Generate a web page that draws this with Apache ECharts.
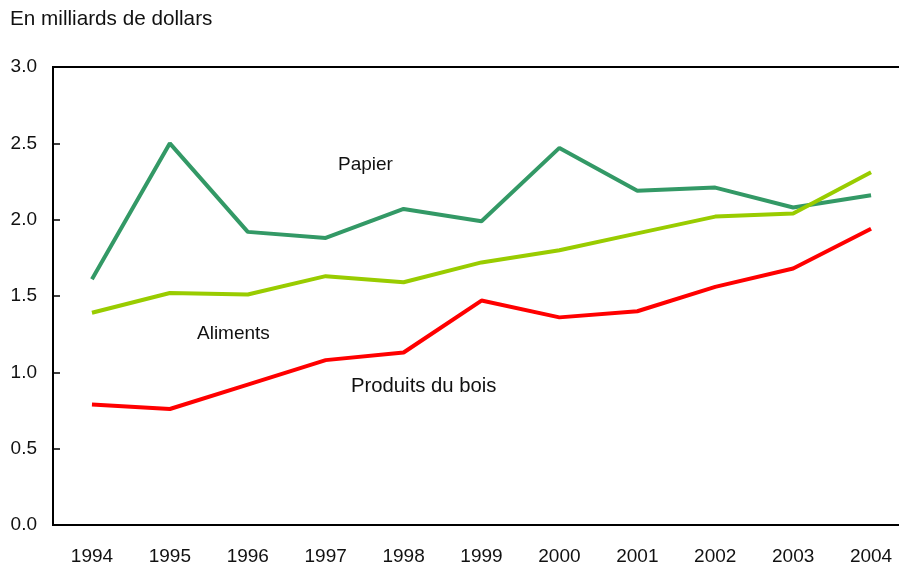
<!DOCTYPE html>
<html>
<head>
<meta charset="utf-8">
<script src="https://cdn.jsdelivr.net/npm/echarts@6/dist/echarts.min.js"></script>
<style>
  html, body { margin: 0; padding: 0; background: #fff; }
  #chart-container { width: 899px; height: 564px; }
</style>
</head>
<body>
<div id="chart-container"></div>
<script>
var years = ['1994', '1995', '1996', '1997', '1998', '1999', '2000', '2001', '2002', '2003', '2004'];
var papier = [1.61, 2.50, 1.92, 1.88, 2.07, 1.99, 2.47, 2.19, 2.21, 2.08, 2.16];
var aliments = [1.39, 1.52, 1.51, 1.63, 1.59, 1.72, 1.80, 1.91, 2.02, 2.04, 2.31];
var bois = [0.79, 0.76, 0.92, 1.08, 1.13, 1.47, 1.36, 1.40, 1.56, 1.68, 1.94];

var dom = document.getElementById('chart-container');
var myChart = echarts.init(dom, null, { renderer: 'canvas' });

var font = 'Liberation Sans, Arial, sans-serif';

function line(name, data, color) {
  return {
    name: name,
    type: 'line',
    data: data,
    symbol: 'none',
    lineStyle: { color: color, width: 4 },
    itemStyle: { color: color },
    animation: false
  };
}

var option = {
  animation: false,
  grid: {
    left: 53, top: 67, width: 857, height: 458,
    outerBoundsMode: 'none',
    show: true, borderColor: '#000', borderWidth: 2
  },
  xAxis: {
    type: 'category',
    data: years,
    boundaryGap: true,
    axisLine: { lineStyle: { color: '#000', width: 2 } },
    axisTick: { inside: true, length: 7, lineStyle: { color: '#000', width: 1.5 } },
    axisLabel: { color: '#111', fontSize: 19, fontFamily: font, margin: 22 }
  },
  yAxis: {
    type: 'value',
    min: 0, max: 3, interval: 0.5,
    axisLine: { show: true, lineStyle: { color: '#000', width: 2 } },
    axisTick: { show: true, inside: true, length: 7, lineStyle: { color: '#000', width: 1.5 } },
    splitLine: { show: false },
    axisLabel: {
      color: '#111', fontSize: 19, fontFamily: font, margin: 16,
      formatter: function (v) { return v.toFixed(1); }
    }
  },
  graphic: [
    { type: 'text', left: 10, top: 9, style: { text: 'En milliards de dollars', fontSize: 20.7, fontFamily: font, fill: '#111' } },
    { type: 'text', left: 338, top: 155, style: { text: 'Papier', fontSize: 19, fontFamily: font, fill: '#111' } },
    { type: 'text', left: 197, top: 324, style: { text: 'Aliments', fontSize: 19, fontFamily: font, fill: '#111' } },
    { type: 'text', left: 351, top: 376, style: { text: 'Produits du bois', fontSize: 20.3, fontFamily: font, fill: '#111' } }
  ],
  series: [
    line('Papier', papier, '#339966'),
    line('Aliments', aliments, '#99cc00'),
    line('Produits du bois', bois, '#ff0000')
  ]
};

myChart.setOption(option);
window.addEventListener('resize', myChart.resize);
</script>
</body>
</html>
